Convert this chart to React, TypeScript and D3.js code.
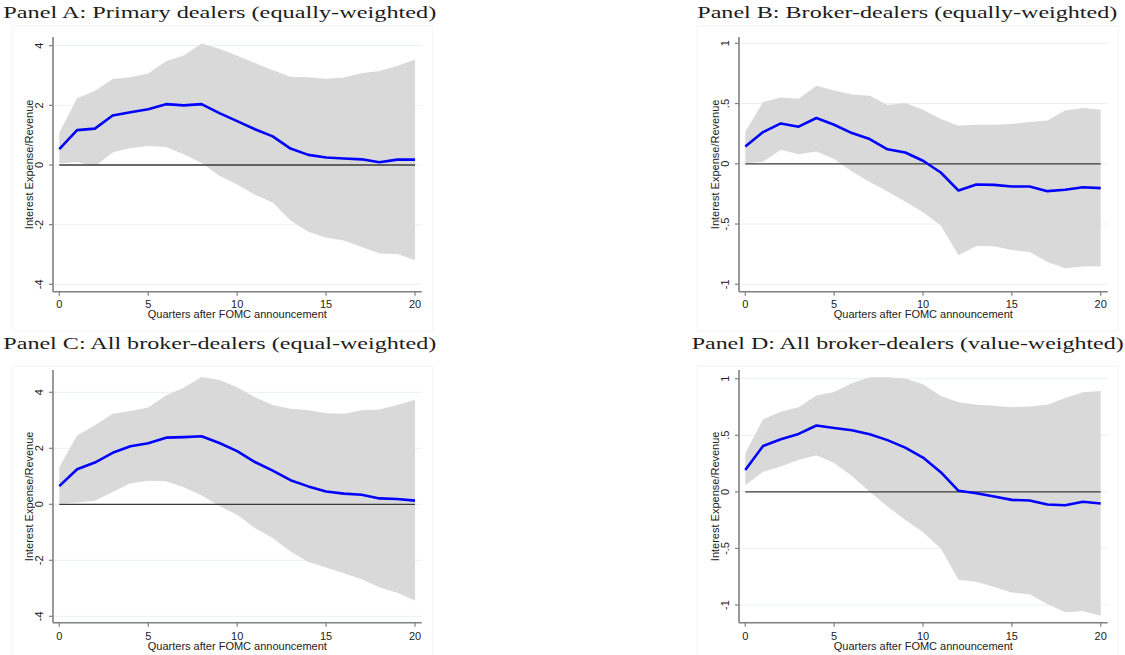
import * as d3 from 'd3';
import React from 'react';

const W = 1125;
const H = 655;

// quarters after the announcement
const quarters = [0, 1, 2, 3, 4, 5, 6, 7, 8, 9, 10, 11, 12, 13, 14, 15, 16, 17, 18, 19, 20];
const xTicks = [0, 5, 10, 15, 20];
const yTicksWide = [-4, -2, 0, 2, 4];
const yTicksNarrow = [-1, -0.5, 0, 0.5, 1];

// Panel A: primary dealers (equally-weighted)
const aIrf = [0.53, 1.17, 1.22, 1.66, 1.77, 1.87, 2.04, 2.0, 2.04, 1.74, 1.47, 1.2, 0.96, 0.55, 0.34, 0.25, 0.22, 0.19, 0.09, 0.18, 0.18];
const aUpper = [1.08, 2.24, 2.48, 2.88, 2.94, 3.07, 3.48, 3.67, 4.07, 3.9, 3.66, 3.42, 3.18, 2.96, 2.94, 2.89, 2.93, 3.08, 3.15, 3.32, 3.54];
const aLower = [0.05, 0.1, -0.04, 0.42, 0.57, 0.64, 0.6, 0.36, 0.07, -0.36, -0.65, -1.0, -1.26, -1.86, -2.24, -2.43, -2.53, -2.75, -2.97, -2.98, -3.19];

// Panel B: broker-dealers (equally-weighted)
const bIrf = [0.144, 0.263, 0.335, 0.308, 0.38, 0.324, 0.255, 0.205, 0.12, 0.094, 0.025, -0.072, -0.222, -0.172, -0.175, -0.188, -0.188, -0.227, -0.216, -0.194, -0.202];
const bUpper = [0.266, 0.513, 0.551, 0.54, 0.648, 0.609, 0.576, 0.565, 0.488, 0.505, 0.449, 0.372, 0.316, 0.324, 0.324, 0.33, 0.347, 0.36, 0.443, 0.463, 0.449];
const bLower = [0.005, 0.017, 0.116, 0.08, 0.102, 0.039, -0.064, -0.152, -0.23, -0.313, -0.402, -0.513, -0.759, -0.682, -0.685, -0.715, -0.731, -0.815, -0.867, -0.853, -0.85];

// Panel C: all broker-dealers (equal-weighted)
const cIrf = [0.65, 1.25, 1.49, 1.84, 2.07, 2.18, 2.38, 2.4, 2.43, 2.19, 1.9, 1.51, 1.2, 0.86, 0.64, 0.46, 0.38, 0.34, 0.21, 0.19, 0.13];
const cUpper = [1.32, 2.46, 2.82, 3.23, 3.33, 3.46, 3.89, 4.16, 4.55, 4.44, 4.18, 3.82, 3.55, 3.41, 3.36, 3.25, 3.23, 3.36, 3.39, 3.55, 3.73];
const cLower = [0.02, 0.06, 0.13, 0.44, 0.75, 0.84, 0.82, 0.61, 0.32, -0.06, -0.37, -0.85, -1.2, -1.69, -2.06, -2.26, -2.46, -2.68, -2.96, -3.16, -3.44];

// Panel D: all broker-dealers (value-weighted)
const dIrf = [0.194, 0.406, 0.465, 0.512, 0.586, 0.565, 0.545, 0.51, 0.457, 0.391, 0.303, 0.174, 0.009, -0.012, -0.041, -0.071, -0.077, -0.112, -0.118, -0.088, -0.103];
const dUpper = [0.342, 0.642, 0.709, 0.748, 0.851, 0.883, 0.96, 1.013, 1.013, 1.001, 0.951, 0.848, 0.792, 0.769, 0.76, 0.748, 0.754, 0.769, 0.83, 0.88, 0.892];
const dLower = [0.059, 0.177, 0.224, 0.283, 0.324, 0.254, 0.141, 0.0, -0.13, -0.247, -0.356, -0.5, -0.777, -0.795, -0.842, -0.89, -0.904, -0.992, -1.063, -1.054, -1.095];

const titles = [
  'Panel A: Primary dealers (equally-weighted)',
  'Panel B: Broker-dealers (equally-weighted)',
  'Panel C: All broker-dealers (equal-weighted)',
  'Panel D: All broker-dealers (value-weighted)',
];
const yTitle = 'Interest Expense/Revenue';
const xTitle = 'Quarters after FOMC announcement';

const blue = '#0000ff';
const band = '#d9d9d9';
const axisGray = '#808080';
const grid = '#e9f1f2';

const cols = [
  { axisX: 53, x0: 59.3, x1: 415, axisRight: 421.7, frameL: 12, frameR: 432.7, titleX: 3.3, titleLen: 433 },
  { axisX: 739, x0: 745.3, x1: 1100.7, axisRight: 1107.7, frameL: 697, frameR: 1118, titleX: 697.3, titleLen: 420 },
];
const rows = [
  { axisTop: 37, axisBottom: 291.7, titleY: 18, tickY: 308, xTitleY: 318, frameT: 26, frameB: 331 },
  { axisTop: 370, axisBottom: 622.7, titleY: 349, tickY: 640, xTitleY: 650, frameT: 366, frameB: 662 },
];

const stataFmt = (v) => {
  if (v === 0) return '0';
  const s = String(v);
  return s.replace(/^(-?)0\./, '$1.');
};

const Panel = ({ title, col, row, irf, upper, lower, yTicks, yDomain, yRange, titleLen, titleX }) => {
  const c = cols[col];
  const r = rows[row];
  const x = d3.scaleLinear().domain([0, 20]).range([c.x0, c.x1]);
  const y = d3.scaleLinear().domain(yDomain).range(yRange);

  const pts = quarters.map((q, i) => ({ q, m: irf[i], hi: upper[i], lo: lower[i] }));
  const area = d3.area().x(d => x(d.q)).y0(d => y(d.lo)).y1(d => y(d.hi))(pts);
  const line = d3.line().x(d => x(d.q)).y(d => y(d.m))(pts);

  const yMid = (r.axisTop + r.axisBottom) / 2;
  const xMid = (c.axisX + c.axisRight) / 2;

  return (
    <g>
      <text x={titleX ?? c.titleX} y={r.titleY} fontFamily="'Liberation Serif', 'DejaVu Serif', serif" fontSize={17.5}
        textLength={titleLen ?? c.titleLen} lengthAdjust="spacingAndGlyphs" fill="#1c1c1c">{title}</text>
      <rect x={c.frameL} y={r.frameT} width={c.frameR - c.frameL} height={r.frameB - r.frameT}
        fill="none" stroke="#f4f4f4" strokeWidth={1} />
      {yTicks.map(t => (
        <line key={'g' + t} x1={c.axisX} x2={c.axisRight} y1={y(t)} y2={y(t)} stroke={grid} strokeWidth={1} />
      ))}
      <path d={area} fill={band} stroke="none" />
      <line x1={x(0)} x2={x(20)} y1={y(0)} y2={y(0)} stroke="#3a3a3a" strokeWidth={1.3} />
      <path d={line} fill="none" stroke={blue} strokeWidth={2.6} strokeLinejoin="round" />
      <line x1={c.axisX} x2={c.axisX} y1={r.axisTop} y2={r.axisBottom} stroke={axisGray} strokeWidth={1.6} />
      <line x1={c.axisX} x2={c.axisRight} y1={r.axisBottom} y2={r.axisBottom} stroke={axisGray} strokeWidth={1.6} />
      {yTicks.map(t => (
        <g key={'y' + t}>
          <line x1={c.axisX - 4} x2={c.axisX} y1={y(t)} y2={y(t)} stroke={axisGray} strokeWidth={1.2} />
          <text transform={`translate(${c.axisX - 10},${y(t)}) rotate(-90)`} textAnchor="middle"
            fontFamily="'Liberation Sans', Arial, sans-serif" fontSize={11} fill="#222">{stataFmt(t)}</text>
        </g>
      ))}
      {xTicks.map(t => (
        <g key={'x' + t}>
          <line x1={x(t)} x2={x(t)} y1={r.axisBottom} y2={r.axisBottom + 4} stroke={axisGray} strokeWidth={1.2} />
          <text x={x(t)} y={r.tickY} textAnchor="middle" fontFamily="'Liberation Sans', Arial, sans-serif"
            fontSize={11} fill="#222">{t}</text>
        </g>
      ))}
      <text transform={`translate(${c.axisX - 20},${yMid}) rotate(-90)`} textAnchor="middle"
        fontFamily="'Liberation Sans', Arial, sans-serif" fontSize={11} fill="#222">{yTitle}</text>
      <text x={xMid} y={r.xTitleY} textAnchor="middle" fontFamily="'Liberation Sans', Arial, sans-serif"
        fontSize={11} fill="#222">{xTitle}</text>
    </g>
  );
};

const App = () => {
  return (
    <svg width={W} height={H} style={{ position: 'absolute', left: 0, top: 0, background: '#fff' }}>
      <rect width={W} height={H} fill="#fff" />
      <Panel title={titles[0]} col={0} row={0} irf={aIrf} upper={aUpper} lower={aLower}
        yTicks={yTicksWide} yDomain={[-4, 4]} yRange={[284.3, 45.7]} />
      <Panel title={titles[1]} col={1} row={0} irf={bIrf} upper={bUpper} lower={bLower}
        yTicks={yTicksNarrow} yDomain={[-1, 1]} yRange={[284.3, 43.3]} />
      <Panel title={titles[2]} col={0} row={1} irf={cIrf} upper={cUpper} lower={cLower}
        yTicks={yTicksWide} yDomain={[-4, 4]} yRange={[616.3, 392.3]} />
      <Panel title={titles[3]} col={1} row={1} irf={dIrf} upper={dUpper} lower={dLower}
        yTicks={yTicksNarrow} yDomain={[-1, 1]} yRange={[605, 378.7]} titleX={691.7} titleLen={432} />
    </svg>
  );
};

export default App;
